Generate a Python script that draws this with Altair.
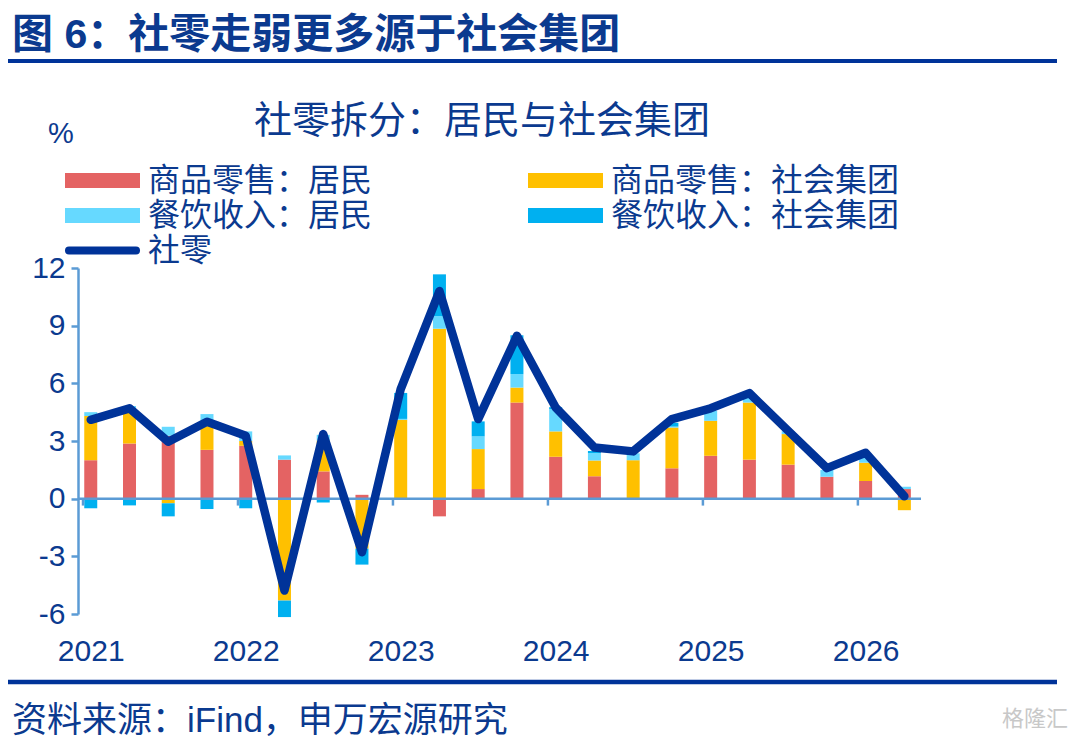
import altair as alt
import pandas as pd

# ---------------- data ----------------
years = ["2021", "2022", "2023", "2024", "2025", "2026"]
series_names = ["商品零售：居民", "商品零售：社会集团", "餐饮收入：居民", "餐饮收入：社会集团"]
series_colors = ["#E46363", "#FFC000", "#66D9FF", "#00B0F0"]

goods_household = [2.0, 2.87, 3.27, 2.54, 2.75, 2.03, 1.42, 0.2, 0.0, -0.92, 0.5, 5.0,
                   2.18, 1.17, 0.0, 1.58, 2.23, 2.03, 1.77, 1.14, 0.92, 0.5]
goods_group = [2.3, 1.75, -0.24, 1.29, 0.25, -5.3, 1.6, -2.6, 4.1, 8.84, 2.08, 0.78,
               1.32, 0.81, 2.0, 2.12, 1.82, 2.97, 1.59, 0.0, 0.95, -0.6]
catering_household = [0.2, 0.2, 0.47, 0.57, 0.5, 0.22, 0.3, 0.0, 0.05, 0.66, 0.66, 0.7,
                      1.16, 0.4, 0.36, 0.05, 0.52, 0.26, 0.15, 0.35, 0.26, 0.12]
catering_group = [-0.5, -0.35, -0.68, -0.54, -0.5, -0.86, -0.2, -0.83, 1.35, 2.17, 0.78, 2.02,
                  0.1, 0.1, 0.0, 0.2, 0.0, 0.0, 0.0, 0.0, 0.0, 0.0]
retail_total = [4.1, 4.7, 2.96, 4.0, 3.27, -4.78, 3.36, -2.79, 5.7, 10.8, 4.14, 8.47,
                4.74, 2.66, 2.46, 4.14, 4.7, 5.49, 3.53, 1.59, 2.39, 0.12]
line_name = "社零"
y_ticks = [-6, -3, 0, 3, 6, 9, 12]

TITLE = "图 6：社零走弱更多源于社会集团"
SUBTITLE = "社零拆分：居民与社会集团"
UNIT = "%"
SOURCE = "资料来源：iFind，申万宏源研究"
WATERMARK = "格隆汇"

# ---------------- styles ----------------
NAVY = "#0B3A8F"
LINE = "#003399"
AXIS = "#5B9BD5"
FONT = "Liberation Sans, Noto Sans CJK SC"
W, H = 843, 346
n = len(retail_total)
QPY = 4  # quarters per year

rows = []
for s_i, (name, vals) in enumerate(zip(series_names,
                                       [goods_household, goods_group, catering_household, catering_group])):
    for i, v in enumerate(vals):
        rows.append({"q": i, "series": name, "value": v, "ord": s_i})
bars_df = pd.DataFrame(rows)
line_df = pd.DataFrame({"q": list(range(n)), "value": retail_total, "name": line_name})
# year boundaries sit a fifth of a quarter before the first bar of each year
ticks_df = pd.DataFrame({"pos": [QPY * k - 0.2 for k in range(len(years))]})

xscale = alt.Scale(domain=[-0.2, n - 0.7], nice=False, zero=False)
yscale = alt.Scale(domain=[min(y_ticks), max(y_ticks)], nice=False)

label_expr = "[" + ",".join("'%s'" % y for y in years) + "][datum.value / %d]" % QPY

x_axis = alt.Axis(values=[QPY * k for k in range(len(years))], labelExpr=label_expr,
                  domain=False, ticks=False, grid=False, title=None,
                  labelFont=FONT, labelFontSize=30, labelColor=NAVY, labelPadding=22,
                  labelOverlap=False, labelFlush=False)
y_axis = alt.Axis(values=y_ticks, grid=False, title=None, tickSize=7, tickWidth=2.5,
                  tickColor=AXIS, domainColor=AXIS, domainWidth=2.5,
                  labelExpr="'' + datum.value",
                  labelFont=FONT, labelFontSize=30, labelColor=NAVY, labelPadding=6)

bars = alt.Chart(bars_df).mark_bar(size=13).encode(
    x=alt.X("q:Q", scale=xscale, axis=x_axis),
    y=alt.Y("value:Q", stack="zero", scale=yscale, axis=y_axis),
    color=alt.Color("series:N", scale=alt.Scale(domain=series_names, range=series_colors), legend=None),
    order=alt.Order("ord:Q", sort="ascending"),
)

zero_line = alt.Chart(line_df).mark_rule(color=AXIS, strokeWidth=2.5).encode(
    y=alt.datum(0), x=alt.value(0), x2=alt.value(W)
).transform_filter("datum.q == 0")

year_ticks = alt.Chart(ticks_df).mark_rule(color=AXIS, strokeWidth=2.5).encode(
    x=alt.X("pos:Q"), y=alt.datum(0), y2=alt.datum(-0.36)
)

line = alt.Chart(line_df).mark_line(strokeWidth=8.5, strokeJoin="round", strokeCap="round",
                                    color=LINE).encode(x="q:Q", y="value:Q")


def text_layer(txt, x, y, size, align="left", weight="normal", color=NAVY):
    return alt.Chart(pd.DataFrame({"t": [txt]})).mark_text(
        align=align, baseline="middle", font=FONT, fontSize=size, fontWeight=weight, color=color
    ).encode(text="t:N", x=alt.value(x), y=alt.value(y))


def hrule(y, width, x0=-70, x1=979, color=LINE, cap="butt"):
    return alt.Chart(pd.DataFrame({"t": [0]})).mark_rule(color=color, strokeWidth=width,
                                                          strokeCap=cap).encode(
        x=alt.value(x0), x2=alt.value(x1), y=alt.value(y))


# ---------------- legend (two columns, row-major like the reference) ----------------
LEG_COL_X = [-13, 450]
LEG_ROW_Y = [-87.5, -52.5, -17.5]
SYM_W = 75
legend_layers = []
for k, (name, col) in enumerate(zip(series_names, series_colors)):
    cx = LEG_COL_X[k % 2]
    cy = LEG_ROW_Y[k // 2]
    legend_layers.append(hrule(cy, 15, cx, cx + SYM_W, color=col))
    legend_layers.append(text_layer(name, cx + SYM_W + 8, cy, 32))
cy = LEG_ROW_Y[2]
legend_layers.append(hrule(cy, 8, LEG_COL_X[0] + 4, LEG_COL_X[0] + SYM_W - 4, color=LINE, cap="round"))
legend_layers.append(text_layer(line_name, LEG_COL_X[0] + SYM_W + 8, cy, 32))

title = text_layer(TITLE, -66, -232, 41, weight="bold")
subtitle = text_layer(SUBTITLE, 404, -146, 38, align="center")
unit = text_layer(UNIT, -30, -134, 29)
source = text_layer(SOURCE, -66, 453, 35)
mark = text_layer(WATERMARK, 990, 451, 22, align="right", color="#C8C8C8")

chart = alt.layer(
    bars, zero_line, year_ticks, line,
    title, subtitle, unit, source, mark,
    hrule(-207, 4), hrule(414, 4.5),
    *legend_layers,
).properties(
    width=W, height=H,
    autosize=alt.AutoSizeParams(type="none"),
    padding={"left": 70, "top": 260, "right": 150, "bottom": 125},
    background="white",
).configure_view(stroke=None)

chart.save("out.html", embed_options={"renderer": "svg", "actions": False})
